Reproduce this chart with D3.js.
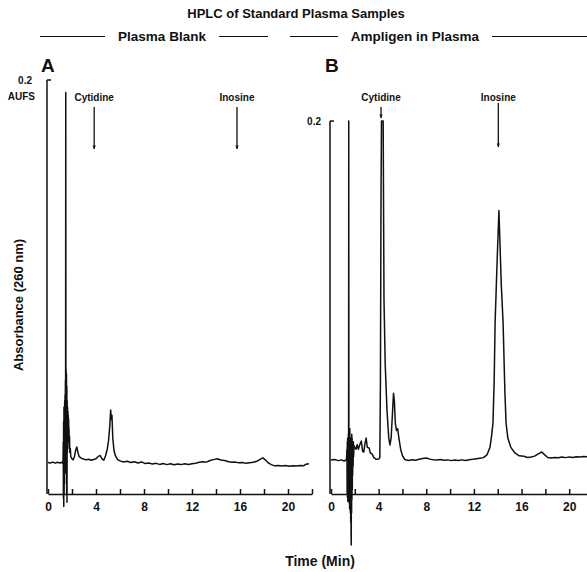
<!DOCTYPE html>
<html><head><meta charset="utf-8">
<script src="https://cdn.jsdelivr.net/npm/d3@7"></script>
<style>
html,body{margin:0;padding:0;background:#fff;}
text{font-family:"Liberation Sans",Arial,sans-serif;fill:#111;}
</style></head>
<body>
<svg id="c" width="587" height="572"></svg>
<script>
// ---- data ----
const title = "HPLC of Standard Plasma Samples";
const panelNames = ["Plasma Blank", "Ampligen in Plasma"];
const panelLetters = ["A", "B"];
const xTicks = [0,2,4,6,8,10,12,14,16,18,20,22];
const xTickLabels = [0,4,8,12,16,20];
// Panel A: time (min) and absorbance (mAU)
const timeA = [0,0.2,0.4,0.6,0.8,1.0,1.15,1.25,1.27,1.285,1.30,1.315,1.33,1.345,1.36,1.375,1.39,1.405,1.42,1.435,1.45,1.465,1.48,1.495,1.51,1.525,1.54,1.555,1.57,1.585,1.60,1.615,1.63,1.645,1.66,1.675,1.69,1.705,1.72,1.735,1.75,1.77,1.79,1.82,1.86,1.9,2.0,2.1,2.2,2.3,2.4,2.5,2.6,2.8,3.0,3.2,3.4,3.6,3.8,4.0,4.2,4.35,4.5,4.65,4.8,4.95,5.05,5.15,5.22,5.28,5.33,5.4,5.5,5.6,5.8,6.0,6.3,6.6,6.9,7.2,7.5,7.8,8.1,8.4,8.7,9.0,9.3,9.6,9.9,10.2,10.5,10.8,11.1,11.4,11.7,12.0,12.3,12.6,12.9,13.2,13.5,13.8,14.1,14.4,14.7,15.0,15.3,15.6,15.9,16.2,16.5,16.8,17.1,17.4,17.7,17.9,18.1,18.3,18.6,18.9,19.2,19.5,19.8,20.1,20.4,20.7,21.0,21.3,21.5,21.75];
const absA = [15.2,15.0,15.4,14.9,15.3,15.0,15.4,14.6,25,-2,35,-6,42,0,40,5,45,10,48,15,55,20,194,25,60,10,58,0,52,-4,45,20,42,25,40,30,38,28,36,25,32,22,28,20,22,18,17,16.5,18,21,22.7,20,18,17.2,16.8,16.5,16.8,16.3,16.7,17,18.2,18.6,17,16.3,18.5,22,26,33,40.6,36,38,27,21,18.8,16.6,16,15.5,15.8,15.2,15.6,15.0,15.5,14.7,15.0,14.5,14.8,14.3,14.7,14.2,14.6,14.1,14.5,14.2,14.6,14.3,14.6,14.9,15.3,15.6,15.4,16.2,16.6,17,16.4,16.2,15.7,15.3,15.4,15.1,15.2,14.8,15.1,15.3,15.8,16.8,17.5,16.5,15.3,14.2,13.6,13.8,13.5,13.8,13.4,13.7,13.5,13.8,13.6,14.4,14.6];
// Panel B
const timeB = [0,0.3,0.6,0.9,1.1,1.3,1.34,1.355,1.37,1.385,1.40,1.415,1.43,1.445,1.46,1.475,1.49,1.505,1.52,1.535,1.55,1.565,1.58,1.595,1.61,1.625,1.64,1.655,1.67,1.685,1.70,1.715,1.73,1.745,1.76,1.775,1.79,1.805,1.82,1.84,1.86,1.88,1.9,1.93,2.0,2.1,2.2,2.3,2.45,2.55,2.65,2.75,2.85,2.95,3.05,3.2,3.3,3.45,3.6,3.8,4.0,4.1,4.15,4.2,4.24,4.38,4.45,4.55,4.7,4.85,4.95,5.05,5.15,5.25,5.32,5.4,5.5,5.6,5.7,5.85,6.0,6.2,6.5,6.8,7.1,7.4,7.7,8.0,8.3,8.6,8.9,9.2,9.5,9.8,10.1,10.4,10.7,11.0,11.3,11.6,11.9,12.2,12.5,12.8,13.1,13.35,13.5,13.6,13.7,13.78,13.95,14.1,14.2,14.3,14.45,14.6,14.7,14.85,15.1,15.45,15.8,16.2,16.5,16.8,17.1,17.4,17.7,17.95,18.2,18.5,18.8,19.1,19.4,19.7,20.0,20.3,20.6,20.9,21.2,21.5];
const absB = [18.2,18.5,17.9,18.3,17.6,18.4,24,0,28,-2,30,-4,26,-3,32,0,200,-2,30,-5,28,-8,35,-4,30,-10,27,-15,30,-20,-27.3,28,-10,32,-3,30,2,28,10,27,15,28,20,26,25,24,26.5,24,27,28.4,23,22.5,27,30,25,24.7,22,21.5,19.5,18.6,18.8,19.5,60,160,200,200,104,70,45,30,26.3,30,42,54,50,38,34,35,30,24,20.5,18.5,18,18.4,18.1,18.6,19,19.3,18.7,18.4,18.2,18.5,18.1,18.3,17.9,18.2,18.0,18.3,18.0,18.4,18.6,18.9,19.2,19.5,21,25,32,38,60,92,125,152,132,112,92,55,38,30,25,22,20.5,20.2,19.6,19.8,20.3,21.5,22.5,21,19.6,19.3,19.6,19.4,19.8,19.5,19.9,19.6,20,19.8,20.1,20];
// annotations: compound names and retention-time arrow positions (min)
const peakNames = ["Cytidine", "Inosine"];
const arrowTimesA = [3.85, 15.75];
const arrowTimesB = [4.2, 14.05];
const fullScaleLabel = ["0.2", "AUFS"];

// ---- drawing ----
const svg = d3.select("#c");
const ink = "#111";

svg.append("text").attr("x", 296).attr("y", 18).attr("text-anchor","middle")
  .attr("font-size", 13).attr("font-weight","bold").text(title);

const subs = [
  {name: panelNames[0], cx: 162, l1:[40,105], l2:[219,268]},
  {name: panelNames[1], cx: 415, l1:[290,338], l2:[492,587]}
];
subs.forEach(s => {
  svg.append("text").attr("x", s.cx).attr("y", 41).attr("text-anchor","middle")
    .attr("font-size", 13.5).attr("font-weight","bold").text(s.name);
  [s.l1, s.l2].forEach(l => svg.append("line").attr("x1", l[0]).attr("x2", l[1])
    .attr("y1", 36.5).attr("y2", 36.5).attr("stroke", ink).attr("stroke-width", 1));
});

const yBase = 494;
const panels = [
  {t: timeA, v: absA, x: d3.scaleLinear([0,22],[48,312]), y: d3.scaleLinear([0,200],[yBase,80]), arrows: arrowTimesA, letterX: 41},
  {t: timeB, v: absB, x: d3.scaleLinear([0,22],[331,593]), y: d3.scaleLinear([0,200],[yBase,121]), arrows: arrowTimesB, letterX: 325}
];

svg.append("defs").append("marker").attr("id","ah").attr("viewBox","0 0 10 10")
  .attr("refX", 9).attr("refY", 5).attr("markerWidth", 4).attr("markerHeight", 6)
  .attr("markerUnits","userSpaceOnUse").attr("orient","auto")
  .append("path").attr("d","M0,1 L10,5 L0,9 Z").attr("fill", ink);

panels.forEach((p, i) => {
  const g = svg.append("g");
  const ax = d3.axisBottom(p.x).tickValues(xTicks)
    .tickFormat(d => xTickLabels.includes(d) ? d : "")
    .tickSizeInner(-5).tickSizeOuter(0).tickPadding(8);
  const axg = g.append("g").attr("transform", `translate(0,${yBase})`).call(ax);
  axg.select(".domain").attr("stroke", ink).attr("stroke-width", 1.5);
  axg.selectAll(".tick line").attr("stroke", ink).attr("stroke-width", 1.5);
  axg.selectAll(".tick text").attr("font-size", 12).attr("font-weight","bold")
     .attr("font-family","Liberation Sans, Arial, sans-serif").attr("fill", ink);
  const x0 = p.x(0) - 1, yTop = p.y(200);
  g.append("line").attr("x1", x0).attr("x2", x0).attr("y1", yTop).attr("y2", yBase)
    .attr("stroke", ink).attr("stroke-width", 1.5);
  g.append("line").attr("x1", x0).attr("x2", x0 + 4).attr("y1", yTop).attr("y2", yTop)
    .attr("stroke", ink).attr("stroke-width", 1.5);
  const line = d3.line().x((d,k) => p.x(p.t[k])).y(d => p.y(d));
  g.append("path").attr("d", line(p.v)).attr("fill","none").attr("stroke", ink)
    .attr("stroke-width", 1.5).attr("stroke-linejoin","round");
  svg.append("text").attr("x", p.letterX).attr("y", 72).attr("font-size", 19)
    .attr("font-weight","bold").text(panelLetters[i]);
  p.arrows.forEach((t, k) => {
    const ax_ = p.x(t);
    let y1, y2;
    if (i === 0) { y1 = 107; y2 = 149; }
    else if (k === 0) { y1 = 107; y2 = 118; }
    else { y1 = 103; y2 = 147; }
    g.append("line").attr("x1", ax_).attr("x2", ax_).attr("y1", y1).attr("y2", y2)
      .attr("stroke", ink).attr("stroke-width", 1.3).attr("marker-end","url(#ah)");
    g.append("text").attr("x", ax_).attr("y", 101).attr("text-anchor","middle")
      .attr("font-size", 10).attr("font-weight","bold").text(peakNames[k]);
  });
});

svg.append("text").attr("x", 32).attr("y", 84).attr("text-anchor","end")
  .attr("font-size", 10).attr("font-weight","bold").text(fullScaleLabel[0]);
svg.append("text").attr("x", 35).attr("y", 100).attr("text-anchor","end")
  .attr("font-size", 10).attr("font-weight","bold").text(fullScaleLabel[1]);
svg.append("text").attr("x", 321).attr("y", 125).attr("text-anchor","end")
  .attr("font-size", 10).attr("font-weight","bold").text(fullScaleLabel[0]);

svg.append("text").attr("transform","translate(23,305) rotate(-90)").attr("text-anchor","middle")
  .attr("font-size", 13).attr("font-weight","bold").text("Absorbance (260 nm)");
svg.append("text").attr("x", 320).attr("y", 566).attr("text-anchor","middle")
  .attr("font-size", 14).attr("font-weight","bold").text("Time (Min)");
</script>
</body></html>
